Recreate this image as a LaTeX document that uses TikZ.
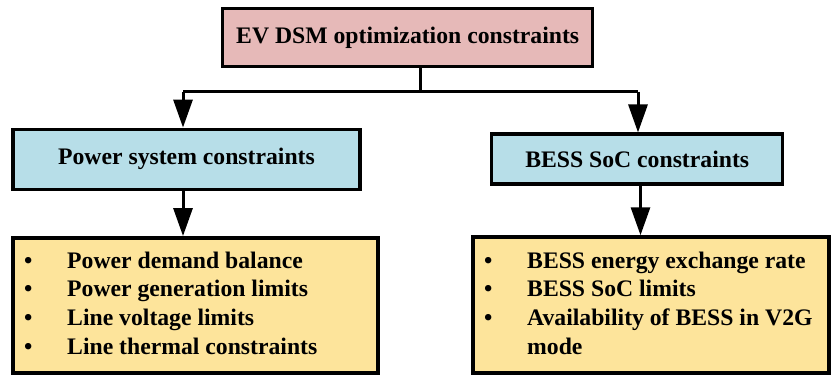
\documentclass[tikz,border=0pt]{standalone}
\usepackage{fontspec}
\setmainfont{Liberation Serif}
\usetikzlibrary{arrows.meta}

\definecolor{rootpink}{RGB}{230,185,184}
\definecolor{catblue}{RGB}{183,222,232}
\definecolor{listyellow}{RGB}{253,228,155}

\tikzset{
  box/.style={draw=black, line width=3.5pt, inner sep=0pt, font=\bfseries\fontsize{23.7}{28.7}\selectfont},
  rootbox/.style={box, fill=rootpink},
  catbox/.style={box, fill=catblue},
  listbox/.style={box, fill=listyellow},
  listtext/.style={inner sep=0pt, anchor=base west, align=left, font=\bfseries\fontsize{23.7}{28.7}\selectfont},
  link/.style={draw=black, line width=3pt},
  arrowlink/.style={link, -{Triangle[length=28pt, width=19pt]}},
}

\begin{document}
\begin{tikzpicture}[x=1pt, y=-1pt]
  \useasboundingbox (0,0) rectangle (832,376);

  % root
  \node[rootbox, minimum width=370pt, minimum height=58pt] (root) at (407.7,37.5)
    {EV DSM optimization constraints};

  % categories
  \node[catbox, minimum width=347pt, minimum height=60pt] (power) at (186.5,159.3)
    {Power system constraints};
  \node[catbox, minimum width=291pt, minimum height=50pt] (bess) at (637.2,159.2)
    {BESS SoC constraints};

  % lists
  \node[listbox, minimum width=365pt, minimum height=135pt] (powerlist) at (195.3,305.3) {};
  \node[listbox, minimum width=356pt, minimum height=136pt] (besslist) at (651,305) {};

  \node[listtext] (powertext) at (24,268)
    {\begin{tabular}[t]{@{}p{43pt}@{}l@{}}
      \textbullet & Power demand balance\\
      \textbullet & Power generation limits\\
      \textbullet & Line voltage limits\\
      \textbullet & Line thermal constraints
     \end{tabular}};
  \node[listtext] (besstext) at (484,268)
    {\begin{tabular}[t]{@{}p{43pt}@{}l@{}}
      \textbullet & BESS energy exchange rate\\
      \textbullet & BESS SoC limits\\
      \textbullet & Availability of BESS in V2G\\
                  & mode
     \end{tabular}};

  % tree connectors
  \coordinate (stem) at (420,91.5);
  \coordinate (leftbend) at (183,91.5);
  \coordinate (rightbend) at (638,91.5);
  \draw[link] (root.south -| stem) -- (stem);
  \draw[link] (leftbend) -- (rightbend);
  \draw[arrowlink] (leftbend) -- (leftbend |- power.north);
  \draw[arrowlink] (rightbend) -- (rightbend |- bess.north);
  \draw[arrowlink] (power.south -| leftbend) -- (leftbend |- powerlist.north);
  \draw[arrowlink] (640.5,0 |- bess.south) -- (640.5,0 |- besslist.north);
\end{tikzpicture}
\end{document}
